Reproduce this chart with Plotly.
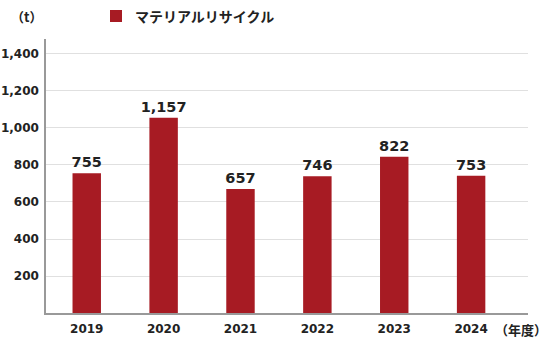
import plotly.graph_objects as go

years = ["2019", "2020", "2021", "2022", "2023", "2024"]
bar_values = [755, 1056, 670, 739, 845, 742]
label_texts = ["755", "1,157", "657", "746", "822", "753"]
y_ticks = [200, 400, 600, 800, 1000, 1200, 1400]
y_tick_text = ["200", "400", "600", "800", "1,000", "1,200", "1,400"]
series_name = "マテリアルリサイクル"

NUM_FONT = "'DejaVu Sans', sans-serif"
JP_FONT = "'Noto Sans CJK JP', sans-serif"
BAR_COLOR = "#a71b23"

# plot area in pixels: x 46..528, y 39..313
PW, PH = 482.0, 274.0


def px_x(x):
    return (x - 46) / PW


def px_y(y):
    return (313 - y) / PH


fig = go.Figure()
fig.add_trace(go.Bar(
    x=list(range(len(years))),
    y=bar_values,
    name=series_name,
    marker=dict(color=BAR_COLOR, line=dict(width=0)),
    width=0.37,
    text=label_texts,
    textposition="outside",
    constraintext="none",
    textfont=dict(family=NUM_FONT, size=14.5, color="#222222", weight="bold"),
    cliponaxis=False,
    showlegend=False,
))

fig.update_layout(
    width=550, height=338,
    margin=dict(l=46, r=22, t=39, b=25, autoexpand=False),
    paper_bgcolor="white", plot_bgcolor="white",
    showlegend=False,
    xaxis=dict(
        range=[-0.53, 5.74],
        tickmode="array", tickvals=list(range(len(years))), ticktext=years,
        showgrid=False, zeroline=False,
        showline=True, linecolor="#999999", linewidth=1.5,
        ticks="", ticklabelstandoff=4,
        tickfont=dict(family=NUM_FONT, size=12, color="#222222", weight="bold"),
        fixedrange=True,
    ),
    yaxis=dict(
        range=[0, 1481],
        tickmode="array", tickvals=y_ticks, ticktext=y_tick_text,
        showgrid=True, gridcolor="#e0e0e0", gridwidth=1,
        zeroline=False,
        showline=True, linecolor="#999999", linewidth=1.5,
        ticks="", ticklabelstandoff=3,
        tickfont=dict(family=NUM_FONT, size=12, color="#222222", weight="bold"),
        fixedrange=True,
    ),
    shapes=[
        dict(type="rect", xref="paper", yref="paper",
             x0=px_x(110), x1=px_x(122), y0=px_y(22), y1=px_y(10),
             fillcolor=BAR_COLOR, line=dict(width=0)),
    ],
    annotations=[
        dict(text=series_name, xref="paper", yref="paper", x=px_x(133), y=px_y(16),
             xanchor="left", yanchor="middle", showarrow=False,
             font=dict(family=JP_FONT, size=14, color="#222222", weight="bold")),
        dict(text="（t）", xref="paper", yref="paper", x=px_x(26), y=px_y(16),
             xanchor="center", yanchor="middle", showarrow=False,
             font=dict(family=JP_FONT, size=13, color="#222222", weight="bold")),
        dict(text="（年度）", xref="paper", yref="paper", x=px_x(549), y=px_y(329),
             xanchor="right", yanchor="middle", showarrow=False,
             font=dict(family=JP_FONT, size=13, color="#222222", weight="bold")),
    ],
)

fig.write_html("out.html")
